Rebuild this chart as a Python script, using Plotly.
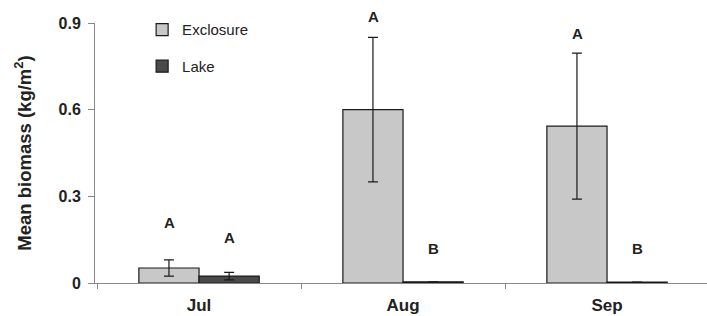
import plotly.graph_objects as go

months = ["Jul", "Aug", "Sep"]
exclosure_mean = [0.052, 0.600, 0.543]
exclosure_err = [0.028, 0.250, 0.253]
lake_mean = [0.024, 0.004, 0.003]
lake_err = [0.013, 0.0, 0.0]
exclosure_letters = ["A", "A", "A"]
lake_letters = ["A", "B", "B"]
exclosure_letter_y = [0.211, 0.921, 0.862]
lake_letter_y = [0.156, 0.121, 0.121]
y_ticks = [0, 0.3, 0.6, 0.9]
y_tick_text = ["0", "0.3", "0.6", "0.9"]
Y_MAX = 0.9

FONT = "Liberation Sans, Arial, sans-serif"
DARK = "#222"

fig = go.Figure()
fig.add_trace(go.Bar(
    x=months, y=exclosure_mean, name="Exclosure",
    marker=dict(color="#c8c8c9", line=dict(color="#1a1a1a", width=1.2)),
    error_y=dict(type="data", array=exclosure_err, color="#1a1a1a", thickness=1.2, width=5),
    legendgroup="exc",
))
fig.add_trace(go.Bar(
    x=months, y=lake_mean, name="Lake",
    marker=dict(color="#4a4a4a", line=dict(color="#1a1a1a", width=1.2)),
    error_y=dict(type="data", array=lake_err, color="#1a1a1a", thickness=1.2, width=5),
    legendgroup="lake",
))

annotations = []
for letters, ys, shift in ((exclosure_letters, exclosure_letter_y, -30),
                           (lake_letters, lake_letter_y, 30)):
    for m, t, yv in zip(months, letters, ys):
        annotations.append(dict(
            x=m, xref="x", y=yv / Y_MAX, yref="paper", yanchor="middle",
            xanchor="center", xshift=shift,
            text="<b>%s</b>" % t, showarrow=False,
            font=dict(family=FONT, size=15, color=DARK)))

fig.update_layout(
    width=707, height=316,
    margin=dict(l=95, r=0, t=23, b=33, autoexpand=False),
    paper_bgcolor="white", plot_bgcolor="white",
    barmode="group", bargap=0.41, bargroupgap=0,
    font=dict(family=FONT, color=DARK),
    showlegend=True,
    legend=dict(x=0.077, y=1.037, xanchor="left", yanchor="top",
                font=dict(family=FONT, size=15, color=DARK),
                tracegroupgap=14, groupclick="toggleitem",
                bgcolor="rgba(0,0,0,0)"),
    annotations=annotations,
    xaxis=dict(
        automargin=False, range=[-0.51, 2.49],
        showline=True, linecolor="#888", linewidth=1,
        ticks="outside", tickson="boundaries", ticklen=5, tickcolor="#888",
        tickfont=dict(family=FONT, size=17, color=DARK, weight="bold"),
        ticklabelstandoff=7,
        showgrid=False, zeroline=False,
    ),
    yaxis=dict(
        automargin=False,
        range=[0, Y_MAX], tickvals=y_ticks, ticktext=y_tick_text,
        showline=True, linecolor="#888", linewidth=1,
        ticks="outside", ticklen=6, tickcolor="#888",
        tickfont=dict(family=FONT, size=16, color=DARK, weight="bold"),
        ticklabelstandoff=4,
        showgrid=False, zeroline=False,
        title=dict(text="<b>Mean biomass (kg/m<sup>2</sup>)</b>",
                   font=dict(family=FONT, size=18.5, color=DARK), standoff=22),
    ),
)

fig.write_html("out.html", config={"displayModeBar": False},
               post_script="document.body.style.margin='0';")
